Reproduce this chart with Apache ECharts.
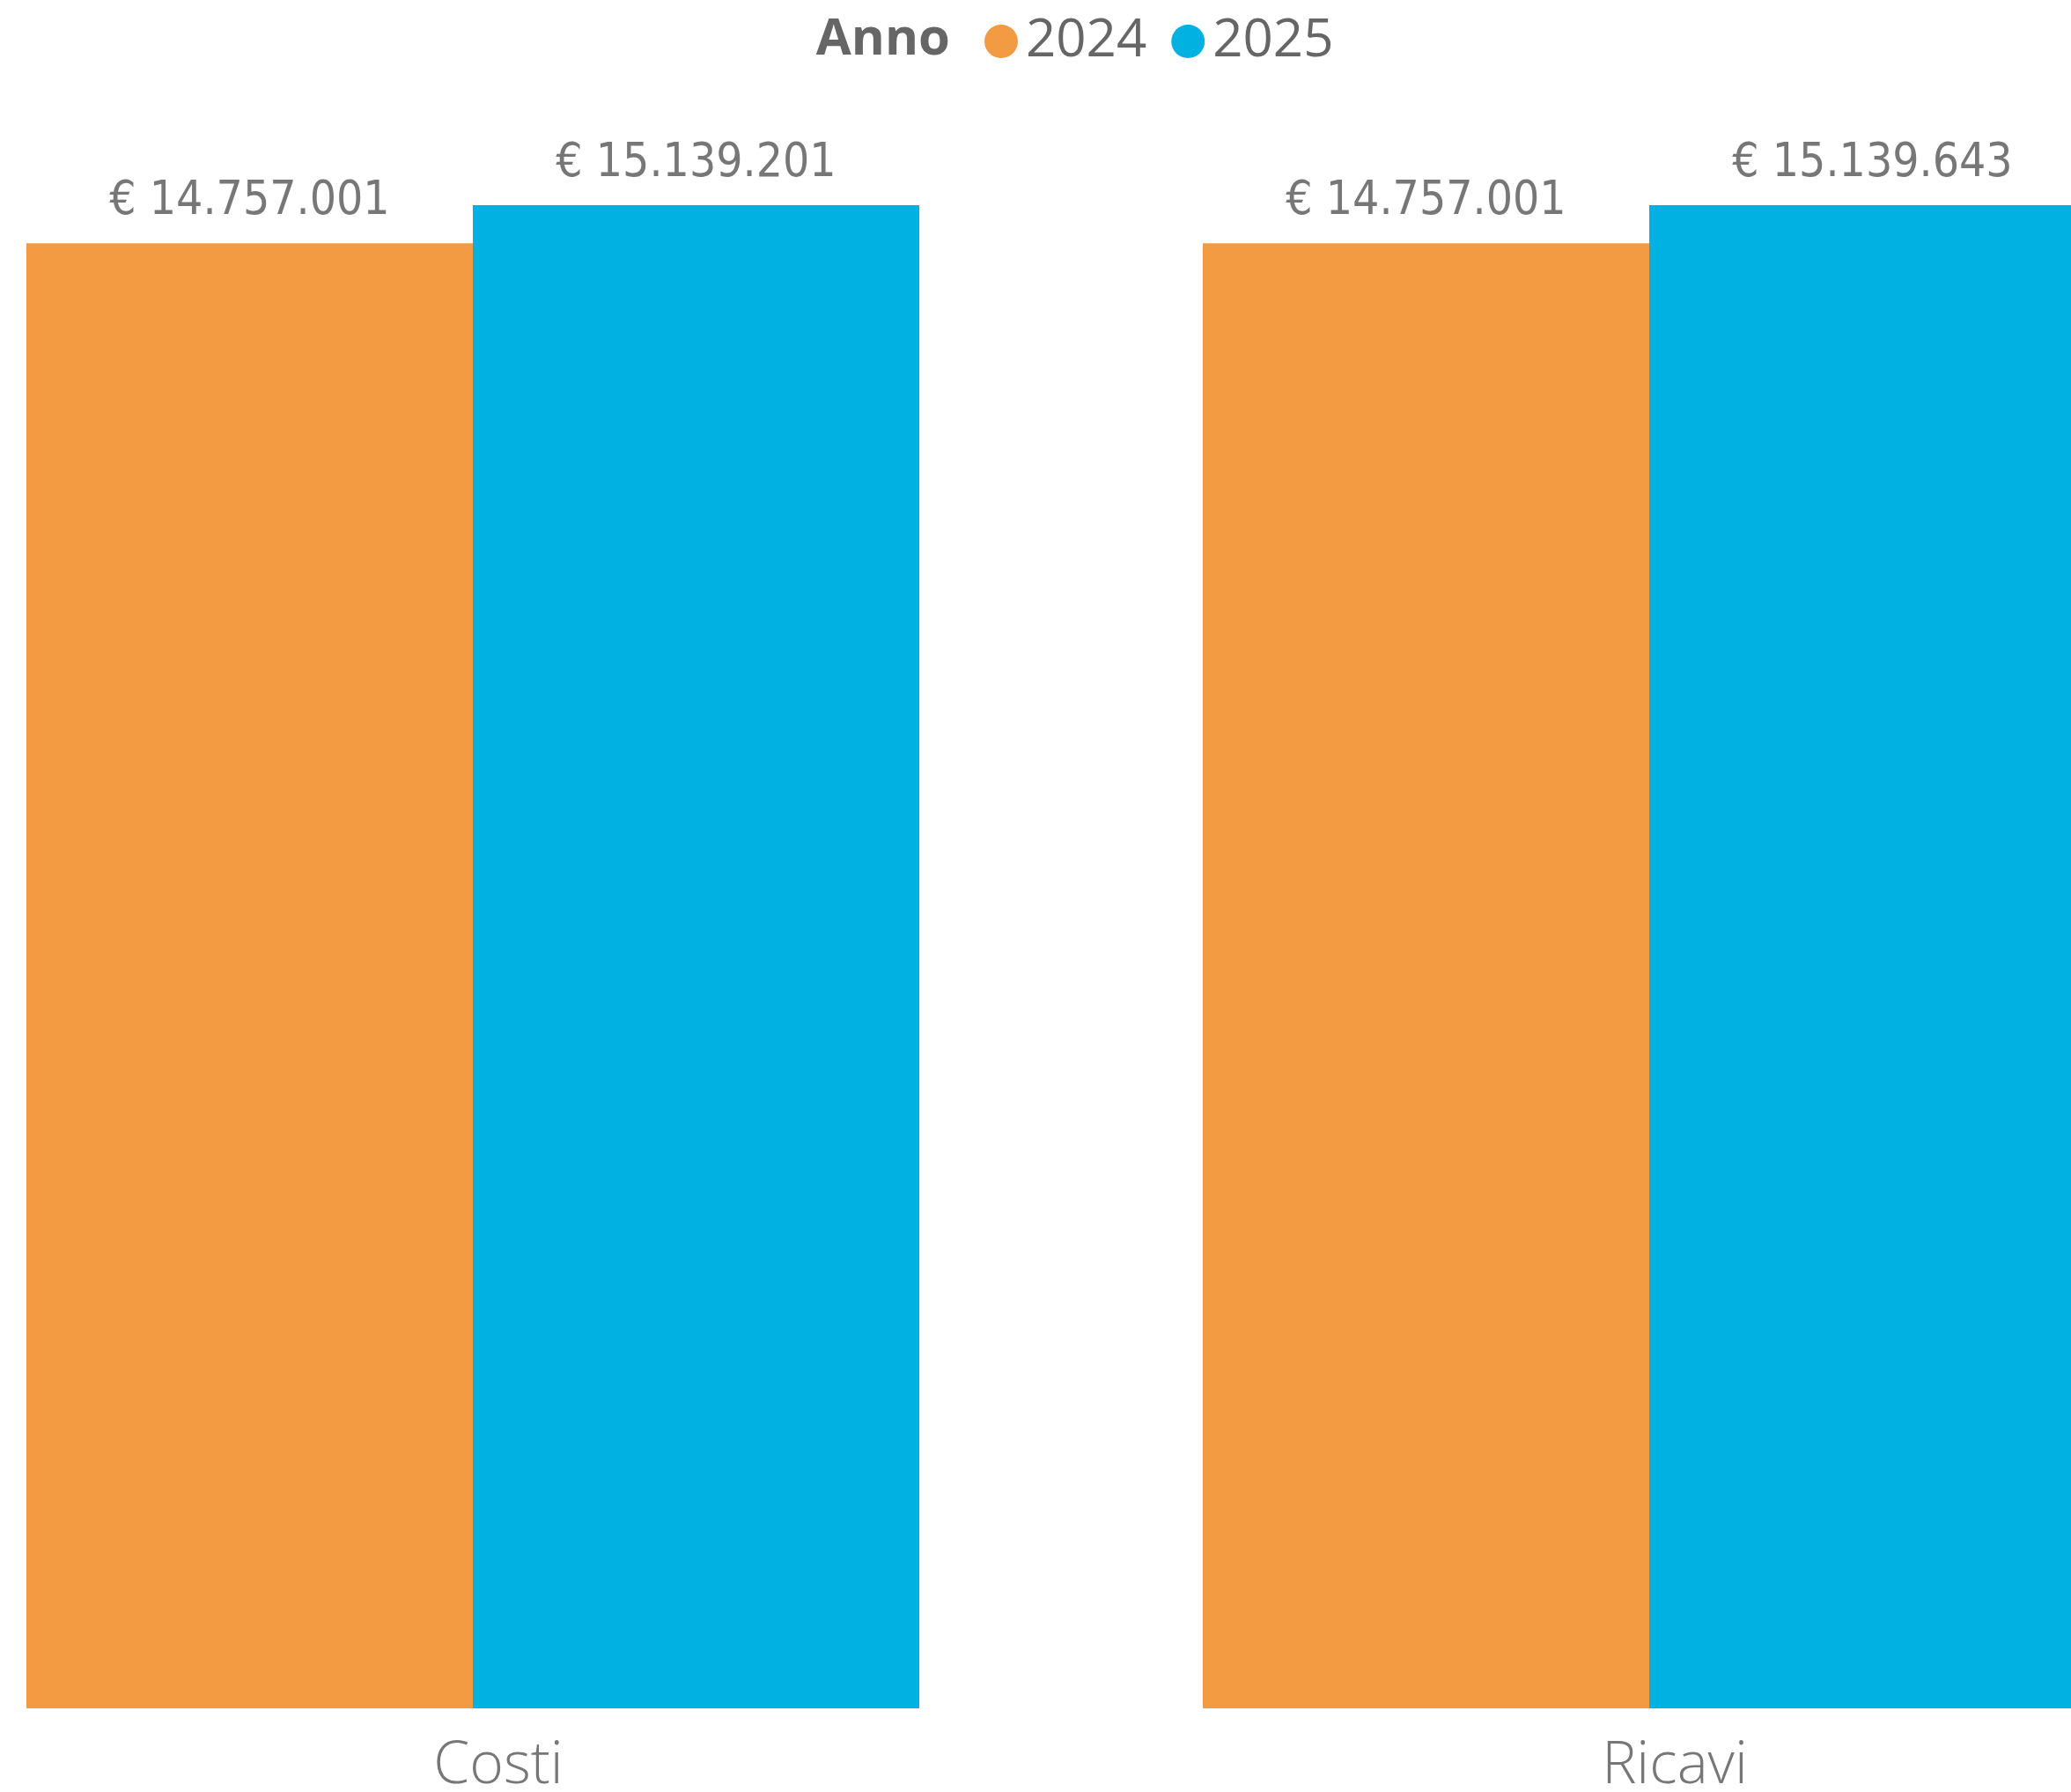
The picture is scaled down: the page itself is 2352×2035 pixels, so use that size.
<!DOCTYPE html>
<html>
<head>
<meta charset="utf-8">
<script src="https://cdn.jsdelivr.net/npm/echarts@6/dist/echarts.min.js"></script>
<style>
html,body{margin:0;padding:0;background:#fff;}
#c{width:2352px;height:2035px;}
</style>
</head>
<body>
<div id="c"></div>
<script>
const categories = ['Costi', 'Ricavi'];
const legendTitle = 'Anno';
const seriesNames = ['2024', '2025'];
const values2024 = [14757001, 14757001];
const values2025 = [15139201, 15139643];

function fmt(v) {
  return '€ ' + String(v).replace(/\B(?=(\d{3})+(?!\d))/g, '.');
}

const chart = echarts.init(document.getElementById('c'));
const labelStyle = {
  show: true,
  position: 'top',
  distance: 20,
  formatter: p => fmt(p.value),
  fontSize: 53,
  color: '#777777',
  fontFamily: '"Liberation Sans Narrow", "DejaVu Sans Condensed", Roboto, sans-serif'
};
chart.setOption({
  animation: false,
  backgroundColor: '#ffffff',
  graphic: [{
    type: 'text',
    x: 1079,
    y: 45,
    style: {
      text: legendTitle,
      textAlign: 'right',
      textVerticalAlign: 'middle',
      fontSize: 58,
      fontWeight: 'bold',
      fill: '#666666',
      fontFamily: '"Open Sans", sans-serif'
    }
  }],
  legend: {
    data: seriesNames,
    left: 1113,
    top: 12,
    icon: 'circle',
    itemWidth: 38,
    itemHeight: 38,
    itemGap: 28,
    textStyle: { fontSize: 60, color: '#666666', fontFamily: '"Open Sans", sans-serif', padding: [0, 0, 0, 4] }
  },
  grid: { left: 537, right: 479, top: 233, bottom: 95, containLabel: false, outerBoundsMode: 'none' },
  xAxis: {
    type: 'category',
    data: categories,
    boundaryGap: false,
    axisLine: { show: false },
    axisTick: { show: false },
    axisLabel: {
      margin: 33,
      fontSize: 66,
      fontWeight: 300,
      color: '#777777',
      fontFamily: '"Open Sans", sans-serif',
      padding: [0, 0, 0, 58]
    },
    splitLine: { show: false }
  },
  yAxis: {
    type: 'value',
    min: 0,
    max: 'dataMax',
    show: false,
    splitLine: { show: false }
  },
  series: [
    {
      name: seriesNames[0],
      type: 'bar',
      data: values2024,
      barWidth: 507,
      barGap: '0%',
      clip: false,
      itemStyle: { color: '#F29B43' },
      label: labelStyle
    },
    {
      name: seriesNames[1],
      type: 'bar',
      data: values2025,
      barWidth: 507,
      barGap: '0%',
      clip: false,
      itemStyle: { color: '#01B1E1' },
      label: labelStyle
    }
  ]
});
</script>
</body>
</html>
